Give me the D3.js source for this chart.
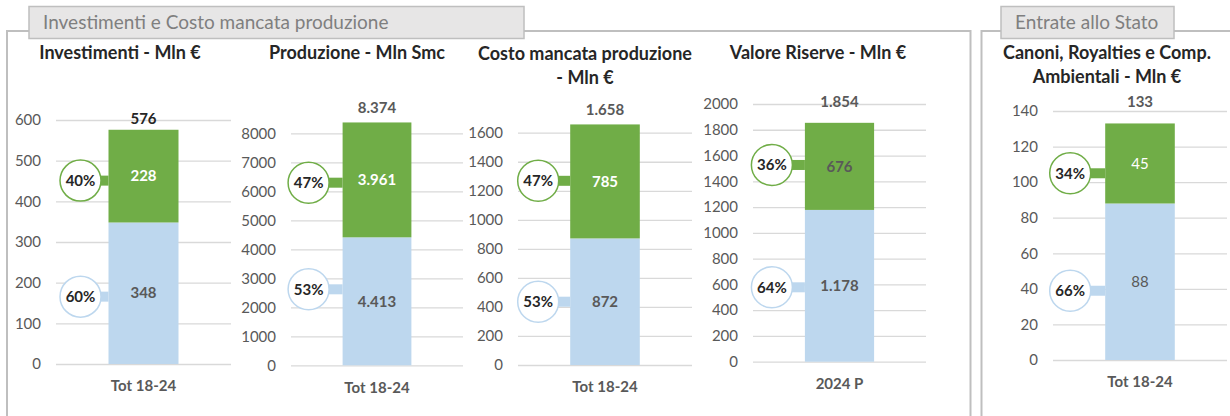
<!DOCTYPE html>
<html>
<head>
<meta charset="utf-8">
<script src="https://cdn.jsdelivr.net/npm/d3@7"></script>
<style>
  body { margin: 0; background: #fff; }
  svg { font-family: Lato, "Open Sans", sans-serif; }
</style>
</head>
<body>
<div id="chart"></div>
<script>
// dati
var sections = ["Investimenti e Costo mancata produzione", "Entrate allo Stato"];
var titles = [
  ["Investimenti - Mln €"],
  ["Produzione - Mln Smc"],
  ["Costo mancata produzione", "- Mln €"],
  ["Valore Riserve - Mln €"],
  ["Canoni, Royalties e Comp.", "Ambientali - Mln €"]
];
var categories = ["Tot 18-24", "Tot 18-24", "Tot 18-24", "2024 P", "Tot 18-24"];
var blueValues = [348, 4413, 872, 1178, 88];
var greenValues = [228, 3961, 785, 676, 45];
var totals = [576, 8374, 1658, 1854, 133];
var axisMax = [600, 8000, 1600, 2000, 140];
var axisStep = [100, 1000, 200, 200, 20];

// disposizione dei pannelli (solo layout)
var layout = [
  { gx: [56, 231],   y0: 364,   y1: 120,   tx: 120,  ty: 53, totDy: -6,  cx: 28, gDy: 4.5,  bDy: 3.4, gCol: "#fff",    weight: "bold",   totCol: "#262626" },
  { gx: [291, 463],  y0: 365.3, y1: 133.3, tx: 357,  ty: 53, totDy: -9,  cx: 34, gDy: 2.8,  bDy: -12, gCol: "#fff",    weight: "bold",   totCol: "#595959" },
  { gx: [518, 692],  y0: 365,   y1: 132.7, tx: 585,  ty: 54, totDy: -9,  cx: 32, gDy: -0.6, bDy: 0,   gCol: "#fff",    weight: "bold",   totCol: "#595959" },
  { gx: [753, 926],  y0: 361.7, y1: 104,   tx: 818,  ty: 53, totDy: -16, cx: 33, gDy: -1.4, bDy: 1.5, gCol: "#595959", weight: "bold",   totCol: "#595959" },
  { gx: [1053, 1227],y0: 360,   y1: 111,   tx: 1107, ty: 53, totDy: -16, cx: 35, gDy: 9.8,  bDy: 9,   gCol: "#fff",    weight: "normal", totCol: "#595959" }
];

var green = "#70AD47", blue = "#BDD7EE", grey = "#595959";
var it = d3.formatLocale({ decimal: ",", thousands: ".", grouping: [3], currency: ["", "€"] });
var fmt = it.format(",");
var pct = d3.format(".0%");

var width = 1230, height = 416;
var svg = d3.select("#chart").append("svg")
    .attr("width", width)
    .attr("height", height);

// cornici e linguette
svg.append("rect").attr("x", 7).attr("y", 31).attr("width", 963.5).attr("height", 420)
    .attr("fill", "none").attr("stroke", "#BFBFBF").attr("stroke-width", 2);
svg.append("rect").attr("x", 981.5).attr("y", 31).attr("width", 300).attr("height", 420)
    .attr("fill", "none").attr("stroke", "#BFBFBF").attr("stroke-width", 2);

var tabs = [{ x: 29, w: 495 }, { x: 1001, w: 173 }];
tabs.forEach(function(t, i) {
  svg.append("rect").attr("x", t.x).attr("y", 6.5).attr("width", t.w).attr("height", 32)
      .attr("fill", "#E7E6E6").attr("stroke", "#BFBFBF").attr("stroke-width", 1.5);
  svg.append("text").attr("x", t.x + 14).attr("y", 22.5).attr("dy", "0.35em")
      .attr("fill", "#7F7F7F").style("font-size", "19px")
      .text(sections[i]);
});

var stack = d3.stack().keys(["blue", "green"]);

categories.forEach(function(cat, i) {
  var L = layout[i];
  var g = svg.append("g");

  var x = d3.scaleBand().domain([cat]).range(L.gx).paddingInner(0.6).paddingOuter(0.3);
  var y = d3.scaleLinear().domain([0, axisMax[i]]).range([L.y0, L.y1]);

  // asse e griglia
  var ax = g.append("g")
      .attr("transform", "translate(" + L.gx[0] + ",0)")
      .call(d3.axisLeft(y)
        .tickValues(d3.range(0, axisMax[i] + 1, axisStep[i]))
        .tickSizeInner(-(L.gx[1] - L.gx[0]))
        .tickSizeOuter(0)
        .tickPadding(15)
        .tickFormat(d3.format("d")));
  ax.select(".domain").remove();
  ax.selectAll(".tick line").attr("stroke", "#D9D9D9").attr("stroke-width", 1.3);
  ax.selectAll(".tick text").attr("fill", grey).style("font-size", "15px")
      .style("font-family", "Lato, sans-serif");

  // barre impilate
  var rows = [{ cat: cat, blue: blueValues[i], green: greenValues[i] }];
  var series = stack(rows);
  var cols = { blue: blue, green: green };

  g.selectAll(".seg")
    .data(series)
    .enter().append("rect")
      .attr("x", x(cat))
      .attr("width", x.bandwidth())
      .attr("y", function(s) { return y(s[0][1]); })
      .attr("height", function(s) { return y(s[0][0]) - y(s[0][1]); })
      .attr("fill", function(s) { return cols[s.key]; });

  // etichette dentro le barre
  g.selectAll(".lab")
    .data(series)
    .enter().append("text")
      .attr("x", x(cat) + x.bandwidth() / 2)
      .attr("y", function(s) { return y((s[0][0] + s[0][1]) / 2); })
      .attr("dy", "0.35em")
      .attr("text-anchor", "middle")
      .attr("fill", function(s) { return s.key == "green" ? L.gCol : grey; })
      .style("font-size", "15px")
      .style("font-weight", L.weight)
      .text(function(s) { return fmt(s[0].data[s.key]); });

  // totale
  g.append("text")
    .attr("x", x(cat) + x.bandwidth() / 2)
    .attr("y", y(totals[i]) + L.totDy)
    .attr("text-anchor", "middle")
    .attr("fill", L.totCol)
    .style("font-size", "15px")
    .style("font-weight", "bold")
    .text(fmt(totals[i]));

  // cerchi con le percentuali
  var ccx = x(cat) - L.cx;
  series.forEach(function(s) {
    var cy = y((s[0][0] + s[0][1]) / 2) + (s.key == "green" ? L.gDy : L.bDy);
    var c = cols[s.key];
    g.append("rect")
      .attr("x", ccx).attr("y", cy - 5)
      .attr("width", x(cat) - ccx).attr("height", 10)
      .attr("fill", c);
    g.append("circle")
      .attr("cx", ccx).attr("cy", cy).attr("r", 20.5)
      .attr("fill", "#fff").attr("stroke", c).attr("stroke-width", 1.5);
    g.append("text")
      .attr("x", ccx).attr("y", cy).attr("dy", "0.35em")
      .attr("text-anchor", "middle")
      .attr("fill", "#262626")
      .style("font-size", "15px")
      .style("font-weight", "bold")
      .text(pct(s[0].data[s.key] / totals[i]));
  });

  // categoria
  g.append("text")
    .attr("x", x(cat) + x.bandwidth() / 2)
    .attr("y", L.y0 + 22).attr("dy", "0.35em")
    .attr("text-anchor", "middle")
    .attr("fill", grey)
    .style("font-size", "15px")
    .style("font-weight", "bold")
    .text(cat);

  // titolo
  g.selectAll(".title")
    .data(titles[i])
    .enter().append("text")
      .attr("x", L.tx)
      .attr("y", function(d, k) { return L.ty + k * 24; })
      .attr("dy", "0.35em")
      .attr("text-anchor", "middle")
      .attr("fill", "#262626")
      .style("font-size", "18px")
      .style("font-weight", "bold")
      .text(function(d) { return d; });
});
</script>
</body>
</html>
